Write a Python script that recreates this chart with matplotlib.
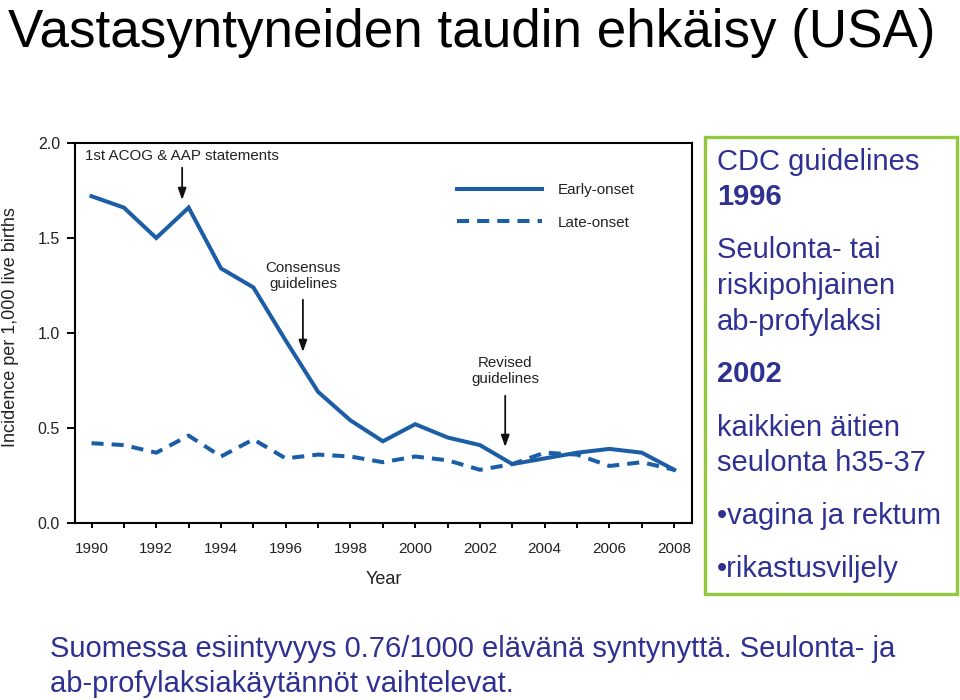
import matplotlib
matplotlib.use("Agg")
import matplotlib.pyplot as plt
from matplotlib import font_manager
from matplotlib.patches import Rectangle

# data (incidence per 1,000 live births)
years = list(range(1990, 2009))
early_onset = [1.72, 1.66, 1.50, 1.66, 1.34, 1.24, 0.96, 0.69, 0.54, 0.43, 0.52,
               0.45, 0.41, 0.31, 0.34, 0.37, 0.39, 0.37, 0.28]
late_onset = [0.42, 0.41, 0.37, 0.46, 0.35, 0.44, 0.34, 0.36, 0.35, 0.32, 0.35,
              0.33, 0.28, 0.31, 0.37, 0.36, 0.30, 0.32, 0.28]
y_ticks = [0.0, 0.5, 1.0, 1.5, 2.0]
x_labels = [str(y) if y % 2 == 0 else "" for y in years]

events = [("1st ACOG & AAP statements", 1992.8, 1.70, 1.87, 1.93),
          ("Consensus\nguidelines", 1996.53, 0.90, 1.175, 1.30),
          ("Revised\nguidelines", 2002.78, 0.40, 0.67, 0.80)]

box_lines = [("CDC guidelines", False, 162), ("1996", True, 197),
             ("Seulonta- tai", False, 250), ("riskipohjainen", False, 286),
             ("ab-profylaksi", False, 322), ("2002", True, 374),
             ("kaikkien äitien", False, 428), ("seulonta h35-37", False, 463),
             ("\u2022vagina ja rektum", False, 516), ("\u2022rikastusviljely", False, 569)]

title = "Vastasyntyneiden taudin ehkäisy (USA)"
footer = ["Suomessa esiintyvyys 0.76/1000 elävänä syntynyttä. Seulonta- ja",
          "ab-profylaksiakäytännöt vaihtelevat."]

blue = "#1b5ea6"
navy = "#2e3192"
green = "#92c83e"
slide_font = ["Liberation Sans", "Arial", "DejaVu Sans"]

# the chart itself uses a narrow face; take one if the system has it
names = {f.name for f in font_manager.fontManager.ttflist}
narrow = [n for n in ("Liberation Sans Narrow", "Arial Narrow") if n in names]
chart_font = narrow + ["Liberation Sans", "DejaVu Sans"]
small = 11.5 if narrow else 10.9

W, H = 960, 700
fig = plt.figure(figsize=(9.6, 7), dpi=100)

def fx(px):
    return px / W

def fy(py):
    return 1 - py / H

ax = fig.add_axes([fx(75), fy(523), fx(617), 380 / H])
ax.plot(years, early_onset, color=blue, lw=2.9, solid_joinstyle="miter",
        label="Early-onset")
ax.plot(years, late_onset, color=blue, lw=2.9, linestyle=(0, (3.0, 2.0)),
        dash_capstyle="butt", label="Late-onset")

ax.set_xlim(1989.49, 2008.55)
ax.set_ylim(0, 2.0)
ax.set_xticks(years)
ax.set_xticklabels(x_labels)
ax.set_yticks(y_ticks)
ax.set_yticklabels([f"{v:.1f}" for v in y_ticks])
for s in ax.spines.values():
    s.set_linewidth(1.5)
ax.tick_params(axis="x", direction="out", length=3.6, width=1.4, pad=10,
               labelsize=11)
ax.tick_params(axis="y", direction="out", length=5.8, width=1.4, pad=5,
               labelsize=11.5)
for lab in ax.get_xticklabels() + ax.get_yticklabels():
    lab.set_family(chart_font)
    lab.set_color("#222222")

ax.set_xlabel("Year", family=chart_font, fontsize=13, color="#222222")
ax.set_ylabel("Incidence per 1,000 live births", family=chart_font,
              fontsize=13, color="#222222")
ax.xaxis.set_label_coords(0.5, -0.125)
ax.yaxis.set_label_coords(-0.09, 0.515)

for text, xv, tip, tail, ty in events:
    ax.annotate("", xy=(xv, tip), xytext=(xv, tail),
                arrowprops=dict(arrowstyle="-|>,head_length=0.7,head_width=0.25",
                                color="#111111", lw=1.3, shrinkA=0, shrinkB=0))
    ax.text(xv, ty, text, ha="center", va="center", family=chart_font,
            fontsize=small, color="#222222", linespacing=1.2)

leg = ax.legend(loc="upper left", bbox_to_anchor=(0.619, 0.894), frameon=False,
                borderaxespad=0, borderpad=0, handlelength=5.6,
                handletextpad=1.0, labelspacing=1.2,
                prop={"family": chart_font, "size": 11})
for t in leg.get_texts():
    t.set_color("#222222")

# slide texts
fig.text(fx(8), fy(47), title, family=slide_font, fontsize=38.2, color="black",
         ha="left", va="baseline")
fig.text(fx(50), fy(657), footer[0], family=slide_font, fontsize=21,
         color=navy, ha="left", va="baseline")
fig.text(fx(50), fy(692), footer[1], family=slide_font, fontsize=21,
         color=navy, ha="left", va="baseline")

fig.add_artist(Rectangle((fx(705), fy(594)), fx(252), 457 / H,
                         transform=fig.transFigure, fill=False,
                         edgecolor=green, lw=2.4))
for text, bold, ypx in box_lines:
    fig.text(fx(717), fy(ypx), text, family=slide_font, fontsize=21,
             fontweight="bold" if bold else "normal", color=navy,
             ha="left", va="center")

fig.savefig("out.png", dpi=100)
